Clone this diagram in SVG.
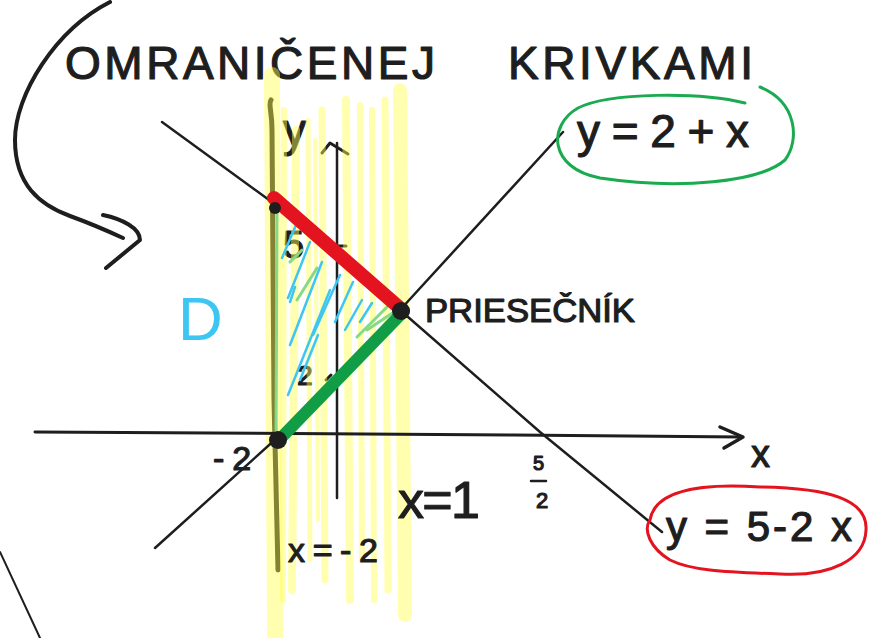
<svg xmlns="http://www.w3.org/2000/svg" width="869" height="638" viewBox="0 0 869 638">
<style>
.ink{fill:none;stroke:#1e1e1e;stroke-linecap:round;stroke-linejoin:round}
.t{font-family:"Liberation Sans","DejaVu Sans",sans-serif;fill:#1e1e1e;stroke:#1e1e1e;stroke-width:1.2;stroke-linejoin:round}
.hl{fill:none;stroke:#ffff4d;stroke-linecap:round;opacity:0.45}
.blue{fill:none;stroke:#3ec6f2;stroke-width:2.5;stroke-linecap:round}
.lg{fill:none;stroke:#86d986;stroke-width:3;stroke-linecap:round}
</style>
<rect width="869" height="638" fill="#ffffff"/>

<g id="title">
<text class="t" x="65" y="79" font-size="46" textLength="370" lengthAdjust="spacing">OMRANIČENEJ</text>
<text class="t" x="508" y="79" font-size="46" textLength="245" lengthAdjust="spacing">KRIVKAMI</text>
</g>

<g id="curved-arrow">
<path class="ink" stroke-width="4" d="M110,2 C55,30 15,95 15,140 C15,185 40,205 70,216 C92,224 110,232 123,238"/>
<path class="ink" stroke-width="4" d="M103,215 C122,219 140,228 140,240 L106,268"/>
</g>
<path class="ink" stroke-width="2" d="M0,552 L40,638"/>

<g id="under-highlight">
<path class="ink" stroke="#2e2e0c" stroke-width="5" d="M271,100 C268,104 272,110 272,130 L274,400 L278,570"/>
<path class="ink" stroke-width="2.5" d="M337,498 L337,143"/>
<path class="ink" stroke-width="3" d="M322,153 L330,143 L348,154"/>
<path class="ink" stroke-width="3" d="M338,246 L346,246"/>
<path class="ink" stroke-width="3" d="M326,380 L331,375"/>
<text class="t" x="283" y="146" font-size="46" fill="#2a2a10">y</text>
<text class="t" x="283" y="258" font-size="38">5</text>
<text class="t" x="297" y="385" font-size="28">2</text>
</g>

<g id="highlight">
<path class="hl" stroke-width="16" d="M272,75 L275,635"/>
<path class="hl" stroke-width="6" d="M284,110 L283,600"/>
<path class="hl" stroke-width="8" d="M296,130 L292,590"/>
<path class="hl" stroke-width="5" d="M308,120 L310,560"/>
<path class="hl" stroke-width="4" d="M315,140 L318,520"/>
<path class="hl" stroke-width="7" d="M322,110 L325,580"/>
<path class="hl" stroke-width="8" d="M346,100 L350,600"/>
<path class="hl" stroke-width="6" d="M360,105 L362,560"/>
<path class="hl" stroke-width="6" d="M372,110 L374,600"/>
<path class="hl" stroke-width="7" d="M385,100 L388,590"/>
<path class="hl" stroke-width="14" d="M400,90 L405,615"/>
</g>

<g id="axes">
<path class="ink" stroke-width="3" d="M35,432 C200,434 500,434 742,437"/>
<path class="ink" stroke-width="3.5" d="M720,427 L743,437 L724,448"/>
<text class="t" x="751" y="467" font-size="38">x</text>
</g>

<g id="lines">
<path class="ink" stroke-width="2.5" d="M155,548 L278,437 L400,310 L563,132"/>
<path class="ink" stroke-width="2.5" d="M162,122 L276,205 L400,310 L540,432 L662,532"/>
</g>

<g id="hatch">
<path class="lg" d="M277,210 L276,440"/>
<path class="lg" d="M290,262 L302,250"/>
<path class="lg" d="M297,300 L317,268"/>
<path class="lg" d="M357,337 L387,307"/>
<path class="lg" d="M367,330 L397,310"/>
<path class="blue" d="M282,258 L296,225"/>
<path class="blue" d="M288,298 L310,242"/>
<path class="blue" d="M290,345 L322,262"/>
<path class="blue" d="M288,395 L330,290"/>
<path class="blue" d="M300,380 L318,335"/>
<path class="blue" d="M313,335 L340,275"/>
<path class="blue" d="M335,322 L353,282"/>
<path class="blue" d="M345,330 L362,300"/>
<path class="blue" d="M360,322 L372,303"/>
<path class="blue" d="M290,302 L295,287"/>
</g>

<g id="edges">
<path fill="none" stroke="#e3141f" stroke-width="14" stroke-linecap="round" d="M274,198 L402,310"/>
<path fill="none" stroke="#119d45" stroke-width="12" stroke-linecap="round" d="M279,440 L404,311"/>
<circle cx="278" cy="440" r="9" fill="#1e1e1e"/>
<circle cx="401" cy="311" r="9" fill="#1e1e1e"/>
<circle cx="275" cy="208" r="6" fill="#1e1e1e"/>
</g>

<g id="labels">
<text x="178" y="340" font-size="62" font-family="Liberation Sans, sans-serif" fill="#3ec6f2">D</text>
<text class="t" x="213" y="470" font-size="34" letter-spacing="8">-2</text>
<text class="t" x="533" y="470" font-size="20" stroke-width="0.6">5</text>
<path class="ink" stroke-width="2.5" d="M531,481 L546,481"/>
<text class="t" x="536" y="508" font-size="22" stroke-width="0.6">2</text>
<text class="t" x="398" y="518" font-size="52" textLength="82" lengthAdjust="spacing">x=1</text>
<text class="t" x="288" y="562" font-size="34" textLength="90" lengthAdjust="spacing">x=-2</text>
<text class="t" x="425" y="322" font-size="34" textLength="210" lengthAdjust="spacingAndGlyphs">PRIESEČNÍK</text>
</g>

<g id="eq-green">
<path fill="none" stroke="#1aaa50" stroke-width="3" stroke-linecap="round" d="M745,103 C700,92 610,92 578,108 C548,125 548,168 600,178 C680,190 760,182 785,160 C800,140 797,102 760,87"/>
<text class="t" x="577" y="147" font-size="46" textLength="172" lengthAdjust="spacing">y = 2 + x</text>
</g>

<g id="eq-red">
<path fill="none" stroke="#e3141f" stroke-width="3" stroke-linecap="round" d="M650,520 C655,490 700,483 760,487 C830,488 868,500 866,530 C865,560 830,577 780,574 C720,572 690,570 670,560 C650,548 643,530 650,520 Z"/>
<text class="t" x="666" y="541" font-size="42" textLength="186" lengthAdjust="spacing">y = 5-2 x</text>
</g>
</svg>
